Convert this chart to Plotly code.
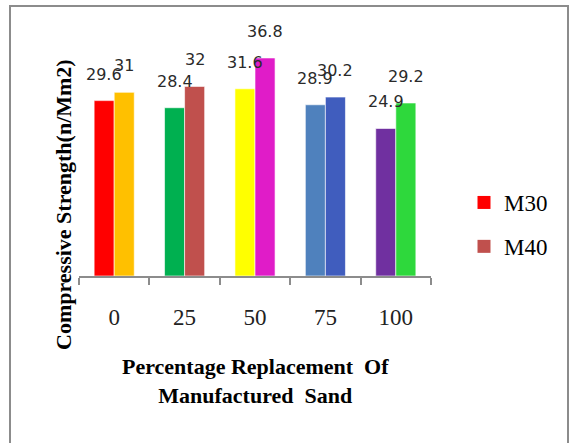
import plotly.graph_objects as go

categories = ["0", "25", "50", "75", "100"]
m30_values = [29.6, 28.4, 31.6, 28.9, 24.9]
m40_values = [31, 32, 36.8, 30.2, 29.2]
m30_colors = ["#FF0000", "#00B050", "#FFFF00", "#4F81BD", "#7030A0"]
m40_colors = ["#FFC000", "#C0504D", "#E01CC8", "#405DBE", "#2ED83C"]
legend_colors = {"M30": "#FF0000", "M40": "#C0504D"}

W, H = 577, 443
L, R, T, B = 79, 146, 39, 167
pw, ph = W - L - R, H - T - B

fig = go.Figure()

for name, vals, cols in [("M30", m30_values, m30_colors), ("M40", m40_values, m40_colors)]:
    fig.add_trace(go.Bar(
        x=categories, y=vals, name=name, showlegend=False,
        marker=dict(color=cols, line=dict(color="rgba(255,255,255,0.6)", width=1)),
    ))

# legend entries with the series' nominal colours (no visible points)
for name, col in legend_colors.items():
    fig.add_trace(go.Scatter(
        x=[categories[0]], y=[None], mode="markers", name=name, legendgroup=name,
        marker=dict(symbol="square", size=13, color=col),
    ))

# value labels above each bar (x given as category index)
label_font = dict(family="DejaVu Sans", size=16, color="#2a2a2a")
for vals, shift in [(m30_values, -10), (m40_values, 10)]:
    for i, v in enumerate(vals):
        fig.add_annotation(
            x=i, y=v, text=f"{v:g}", showarrow=False,
            xshift=shift, yshift=15, yanchor="bottom", font=label_font,
        )

serif_bold = dict(family="Liberation Serif", size=22, color="#000000")

fig.add_annotation(
    xref="paper", yref="paper",
    x=(63 - L) / pw, y=(H - B - 205) / ph,
    xanchor="center", yanchor="middle",
    text="<b>Compressive Strength(n/Mm2)</b>", textangle=-90,
    showarrow=False, font=serif_bold,
)
fig.add_annotation(
    xref="paper", yref="paper",
    x=(255 - L) / pw, y=(H - B - 381) / ph,
    xanchor="center", yanchor="middle",
    text="<b>Percentage Replacement  Of</b><br><b>Manufactured  Sand</b>",
    showarrow=False, font=serif_bold,
)

# outer chart border
fig.add_shape(
    type="rect", xref="paper", yref="paper",
    x0=(10 - L) / pw, x1=(568 - L) / pw,
    y0=(H - B - 460) / ph, y1=(H - B - 6) / ph,
    line=dict(color="#8C8C8C", width=2), fillcolor="rgba(0,0,0,0)", layer="below",
)

fig.update_layout(
    width=W, height=H,
    margin=dict(l=L, r=R, t=T, b=B, autoexpand=False),
    paper_bgcolor="white", plot_bgcolor="white",
    barmode="group", bargap=0.43, bargroupgap=0.0,
    showlegend=True,
    legend=dict(
        x=(464 - L) / pw, y=(H - B - 181) / ph, xanchor="left", yanchor="top",
        font=dict(family="Liberation Serif", size=23, color="#000000"),
        tracegroupgap=11, itemwidth=30,
        bgcolor="rgba(0,0,0,0)",
    ),
    xaxis=dict(
        type="category", categoryorder="array", categoryarray=categories,
        range=[-0.5, len(categories) - 0.5],
        showline=True, linecolor="#8C8C8C", linewidth=2,
        ticks="outside", tickson="boundaries", ticklen=7, tickcolor="#8C8C8C", tickwidth=2,
        tickfont=dict(family="Liberation Serif", size=23, color="#222222"),
        tickangle=0, ticklabelstandoff=19, showgrid=False,
    ),
    yaxis=dict(range=[0, 40], showticklabels=False, showgrid=False, zeroline=False, showline=False),
)

fig.write_html("out.html")
